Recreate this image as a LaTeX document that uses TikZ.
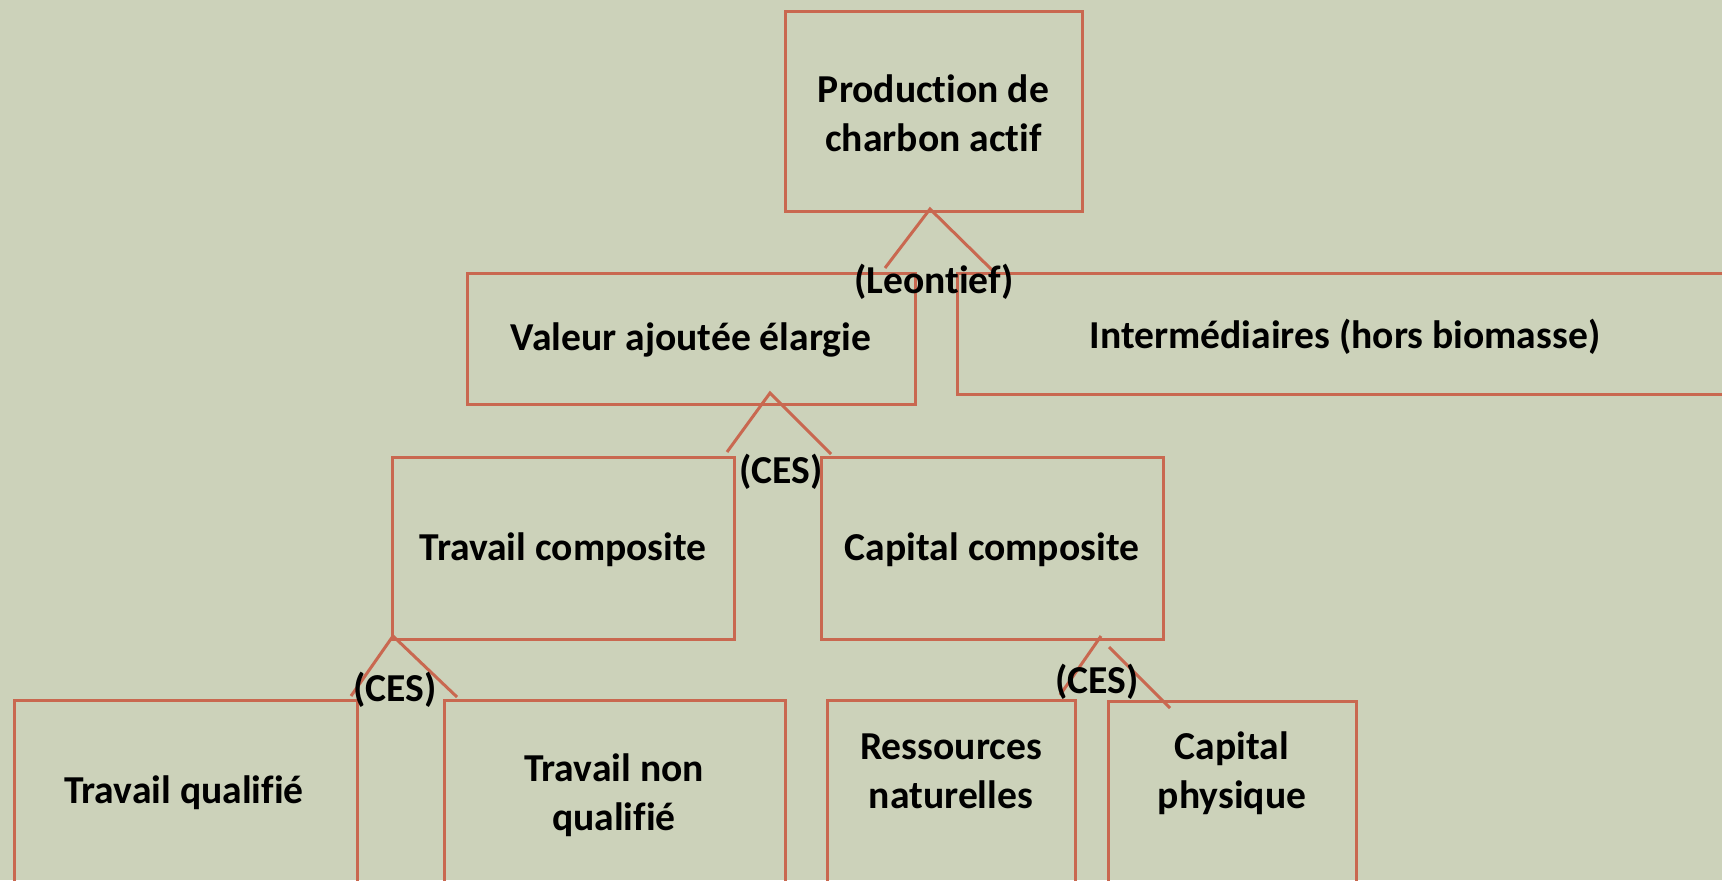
\documentclass[tikz,border=0pt]{standalone}
\usepackage{fontspec}
\setmainfont{Carlito}[Ligatures={NoCommon,NoRare},Contextuals={NoAlternate}]
\definecolor{bg}{RGB}{204,210,186}
\definecolor{ln}{RGB}{201,104,80}
\begin{document}
\begin{tikzpicture}[x=0.5pt,y=-0.5pt,
  box/.style={draw=ln,line width=1.5pt,inner sep=0pt,outer sep=0pt},
  txt/.style={font=\fontsize{19.8}{24.5}\selectfont\bfseries,align=center,inner sep=0pt,text=black},
  conn/.style={draw=ln,line width=1.5pt}]
\fill[bg] (0,0) rectangle (1722,880);
\useasboundingbox (0,0) rectangle (1722,880);
% boxes
\node[box,minimum width=148.5pt,minimum height=100pt] (top) at (933.5,111) {};
\node[box,minimum width=224pt,minimum height=65.5pt] (val) at (691,338.5) {};
\node[box,minimum width=388pt,minimum height=60.5pt] (inter) at (1345,333.5) {};
\node[box,minimum width=171pt,minimum height=91pt] (tc) at (563,548) {};
\node[box,minimum width=171pt,minimum height=91pt] (cc) at (992,548) {};
\node[box,minimum width=171.5pt,minimum height=100pt] (tq) at (185.5,800) {};
\node[box,minimum width=170.5pt,minimum height=100pt] (tnq) at (614.5,800) {};
\node[box,minimum width=124pt,minimum height=100pt] (rn) at (951,800) {};
\node[box,minimum width=124pt,minimum height=99.5pt] (cp) at (1232,800.5) {};
% connector coordinates
\coordinate (a1) at (930,209); \coordinate (l1) at (885,268); \coordinate (r1) at (992,270);
\coordinate (a2) at (770,393); \coordinate (l2) at (727,452); \coordinate (r2) at (831,454);
\coordinate (a3) at (393,636); \coordinate (l3) at (351,696); \coordinate (r3) at (457,697);
\coordinate (a4) at (1101,636); \coordinate (l4) at (1060,695);
\coordinate (b4) at (1109,647); \coordinate (r4) at (1170,708);
\draw[conn] (l1) -- (a1) -- (r1);
\draw[conn] (l2) -- (a2) -- (r2);
\draw[conn] (l3) -- (a3) -- (r3);
\draw[conn] (a4) -- (l4);
\draw[conn] (b4) -- (r4);
% texts
\node[txt] (ttop) at (933.5,113) {Production de\\charbon actif};
\node[txt] (tval) at (691,340) {Valeur ajoutée élargie};
\node[txt] (tinter) at (1345,337) {Intermédiaires (hors biomasse)};
\node[txt] (ttc) at (563,550) {Travail composite};
\node[txt] (tcc) at (992,550) {Capital composite};
\node[txt] (ttq) at (184,793) {Travail qualifié};
\node[txt] (ttnq) at (614,795) {Travail non\\qualifié};
\node[txt] (trn) at (951,771) {Ressources\\naturelles};
\node[txt] (tcp) at (1232,773) {Capital\\physique};
% labels
\node[txt] (leo) at (934,282) {(Leontief)};
\node[txt] (ces1) at (781,472) {(CES)};
\node[txt] (ces2) at (395,690) {(CES)};
\node[txt] (ces3) at (1097,682) {(CES)};
\end{tikzpicture}
\end{document}
